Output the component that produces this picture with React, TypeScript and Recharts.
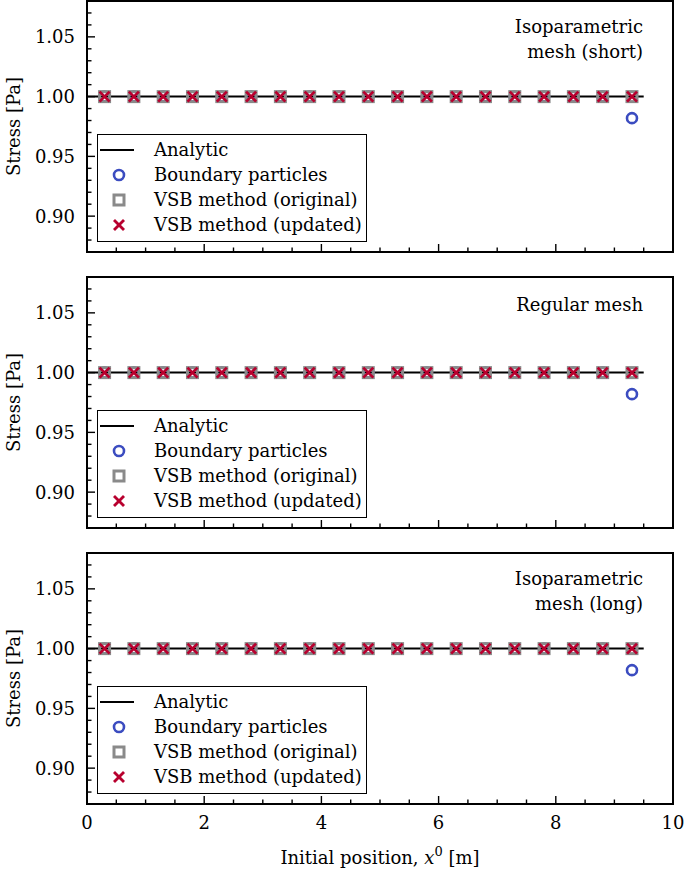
import React from "react";
import { ComposedChart, Line, Scatter, XAxis, YAxis, Legend } from "recharts";

// particle initial positions [m]
const positions = [0.3, 0.8, 1.3, 1.8, 2.3, 2.8, 3.3, 3.8, 4.3, 4.8, 5.3, 5.8, 6.3, 6.8, 7.3, 7.8, 8.3, 8.8, 9.3];
const boundaryStress = [1, 1, 1, 1, 1, 1, 1, 1, 1, 1, 1, 1, 1, 1, 1, 1, 1, 1, 0.982];
const vsbOriginalStress = [1, 1, 1, 1, 1, 1, 1, 1, 1, 1, 1, 1, 1, 1, 1, 1, 1, 1, 1];
const vsbUpdatedStress = [1, 1, 1, 1, 1, 1, 1, 1, 1, 1, 1, 1, 1, 1, 1, 1, 1, 1, 1];
const analyticX = [0, 9.5];
const analyticStress = [1, 1];

const xTicks = [0, 0.5, 1, 1.5, 2, 2.5, 3, 3.5, 4, 4.5, 5, 5.5, 6, 6.5, 7, 7.5, 8, 8.5, 9, 9.5, 10];
const xMajorTicks = [0, 2, 4, 6, 8, 10];
const yTicks = [0.87, 0.88, 0.89, 0.9, 0.91, 0.92, 0.93, 0.94, 0.95, 0.96, 0.97, 0.98, 0.99, 1.0, 1.01, 1.02, 1.03, 1.04, 1.05, 1.06, 1.07, 1.08];
const yMajorTicks = [0.9, 0.95, 1.0, 1.05];

const seriesNames = ["Analytic", "Boundary particles", "VSB method (original)", "VSB method (updated)"];
const panelTitles = [["Isoparametric", "mesh (short)"], ["Regular mesh"], ["Isoparametric", "mesh (long)"]];

const BLUE = "#3b4cc0";
const GREY = "#8a8a8a";
const RED = "#b8002e";
const FONT = "'DejaVu Serif', serif";
const FS = 18;

const toPoints = (xs: number[], ys: number[]) => xs.map((x, i) => ({ x, y: ys[i] }));
const analytic = toPoints(analyticX, analyticStress);
const boundary = toPoints(positions, boundaryStress);
const vsbOriginal = toPoints(positions, vsbOriginalStress);
const vsbUpdated = toPoints(positions, vsbUpdatedStress);

const near = (list: number[], v: number) => list.some((m) => Math.abs(m - v) < 1e-6);

// marker glyphs
const Circle = ({ cx, cy }: any) => <circle cx={cx} cy={cy} r={5} fill="none" stroke={BLUE} strokeWidth={2.6} />;
const Square = ({ cx, cy }: any) => (
  <rect x={cx - 5} y={cy - 5} width={10} height={10} fill="none" stroke={GREY} strokeWidth={3} />
);
const Cross = ({ cx, cy }: any) => (
  <g stroke={RED} strokeWidth={2.8}>
    <line x1={cx - 5} y1={cy - 5} x2={cx + 5} y2={cy + 5} />
    <line x1={cx - 5} y1={cy + 5} x2={cx + 5} y2={cy - 5} />
  </g>
);

const textStyle = { fontFamily: FONT, fontSize: FS, fill: "#000" };

// inward ticks, all four sides
const makeXTick = (dir: 1 | -1, labels: boolean) => (props: any) => {
  const { x, y, payload } = props;
  const major = near(xMajorTicks, payload.value);
  const len = major ? 8 : 4.5;
  return (
    <g>
      <line x1={x} y1={y} x2={x} y2={y + dir * len} stroke="#000" strokeWidth={1.4} />
      {labels && major && (
        <text x={x} y={y + 25} textAnchor="middle" style={textStyle}>
          {payload.value}
        </text>
      )}
    </g>
  );
};

const makeYTick = (dir: 1 | -1, labels: boolean) => (props: any) => {
  const { x, y, payload } = props;
  const major = near(yMajorTicks, payload.value);
  const len = major ? 8 : 4.5;
  return (
    <g>
      <line x1={x} y1={y} x2={x + dir * len} y2={y} stroke="#000" strokeWidth={1.4} />
      {labels && major && (
        <text x={x - 12} y={y + 6.5} textAnchor="end" style={textStyle}>
          {payload.value.toFixed(2)}
        </text>
      )}
    </g>
  );
};

const legendIcon = (name: string) => {
  if (name === "Analytic") return <line x1={2} y1={12} x2={36} y2={12} stroke="#000" strokeWidth={2} />;
  if (name === "Boundary particles") return <Circle cx={21} cy={12} />;
  if (name === "VSB method (original)") return <Square cx={21} cy={12} />;
  return <Cross cx={21} cy={12} />;
};

const LegendBox = (props: any) => {
  const items = [...(props.payload || [])].sort(
    (a: any, b: any) => seriesNames.indexOf(a.value) - seriesNames.indexOf(b.value)
  );
  return (
    <div
      style={{
        border: "1.5px solid #000",
        background: "#fff",
        padding: "2px 0 4px 0",
        fontFamily: FONT,
        fontSize: FS,
        lineHeight: "25px",
      }}
    >
      {items.map((it: any) => (
        <div key={it.value} style={{ display: "flex", alignItems: "center", height: 25 }}>
          <svg width={56} height={24} style={{ display: "block" }}>
            {legendIcon(it.value)}
          </svg>
          <span>{it.value}</span>
        </div>
      ))}
    </div>
  );
};

const axisLine = { stroke: "#000", strokeWidth: 2, strokeLinecap: "square" as const };

function Panel({ title, last }: { title: string[]; last: boolean }) {
  const height = last ? 319 : 256;
  return (
    <div style={{ position: "relative", width: 685, height }}>
      <ComposedChart width={685} height={height} margin={{ top: 0, right: 11, bottom: height - 253, left: 86 }}>
        <XAxis
          xAxisId="b"
          dataKey="x"
          type="number"
          domain={[0, 10]}
          ticks={xTicks}
          interval={0}
          height={1}
          tickSize={0}
          tickMargin={0}
          tickLine={false}
          axisLine={axisLine}
          tick={makeXTick(-1, last)}
          label={
            last
              ? {
                  content: (p: any) => {
                    const vb = p.viewBox || { x: 87, y: 252, width: 586 };
                    return (
                      <text x={vb.x + vb.width / 2} y={vb.y + 60} textAnchor="middle" style={textStyle}>
                        Initial position,{" "}
                        <tspan fontStyle="italic">x</tspan>
                        <tspan dy={-8} fontSize={13}>0</tspan>
                        <tspan dy={8}> [m]</tspan>
                      </text>
                    );
                  },
                }
              : undefined
          }
        />
        <XAxis
          xAxisId="t"
          orientation="top"
          dataKey="x"
          type="number"
          domain={[0, 10]}
          ticks={xTicks}
          interval={0}
          height={1}
          tickSize={0}
          tickMargin={0}
          tickLine={false}
          axisLine={axisLine}
          tick={makeXTick(1, false)}
        />
        <YAxis
          yAxisId="l"
          dataKey="y"
          type="number"
          domain={[0.87, 1.08]}
          ticks={yTicks}
          interval={0}
          width={1}
          tickSize={0}
          tickMargin={0}
          tickLine={false}
          axisLine={axisLine}
          tick={makeYTick(1, true)}
          label={{
            content: (p: any) => {
              const vb = p.viewBox || { x: 86, y: 1, height: 251 };
              const cx = 20;
              const cy = vb.y + vb.height / 2;
              return (
                <text x={cx} y={cy} textAnchor="middle" transform={`rotate(-90 ${cx} ${cy})`} style={textStyle}>
                  Stress [Pa]
                </text>
              );
            },
          }}
        />
        <YAxis
          yAxisId="r"
          orientation="right"
          dataKey="y"
          type="number"
          domain={[0.87, 1.08]}
          ticks={yTicks}
          interval={0}
          width={1}
          tickSize={0}
          tickMargin={0}
          tickLine={false}
          axisLine={axisLine}
          tick={makeYTick(-1, false)}
        />
        <Line
          xAxisId="b"
          yAxisId="l"
          data={analytic}
          dataKey="y"
          name={seriesNames[0]}
          stroke="#000"
          strokeWidth={2}
          dot={false}
          isAnimationActive={false}
        />
        <Scatter
          xAxisId="b"
          yAxisId="l"
          data={boundary}
          name={seriesNames[1]}
          fill={BLUE}
          shape={Circle}
          isAnimationActive={false}
        />
        <Scatter
          xAxisId="b"
          yAxisId="l"
          data={vsbOriginal}
          name={seriesNames[2]}
          fill={GREY}
          shape={Square}
          isAnimationActive={false}
        />
        <Scatter
          xAxisId="b"
          yAxisId="l"
          data={vsbUpdated}
          name={seriesNames[3]}
          fill={RED}
          shape={Cross}
          isAnimationActive={false}
        />
        <Legend
          layout="horizontal"
          verticalAlign="middle"
          align="center"
          content={LegendBox}
          wrapperStyle={{ position: "absolute", left: 97, top: 134, width: 270, height: "auto" }}
        />
      </ComposedChart>
      <div
        style={{
          position: "absolute",
          right: 42,
          top: title.length > 1 ? 14 : 15.5,
          textAlign: "right",
          fontFamily: FONT,
          fontSize: FS,
          lineHeight: "25px",
          pointerEvents: "none",
        }}
      >
        {title.map((t) => (
          <div key={t}>{t}</div>
        ))}
      </div>
    </div>
  );
}

export default function App() {
  return (
    <div style={{ position: "absolute", left: 0, top: 0, width: 685, height: 871, background: "#fff" }}>
      {panelTitles.map((t, i) => (
        <div key={i} style={{ position: "absolute", left: 0, top: 276 * i }}>
          <Panel title={t} last={i === panelTitles.length - 1} />
        </div>
      ))}
    </div>
  );
}
